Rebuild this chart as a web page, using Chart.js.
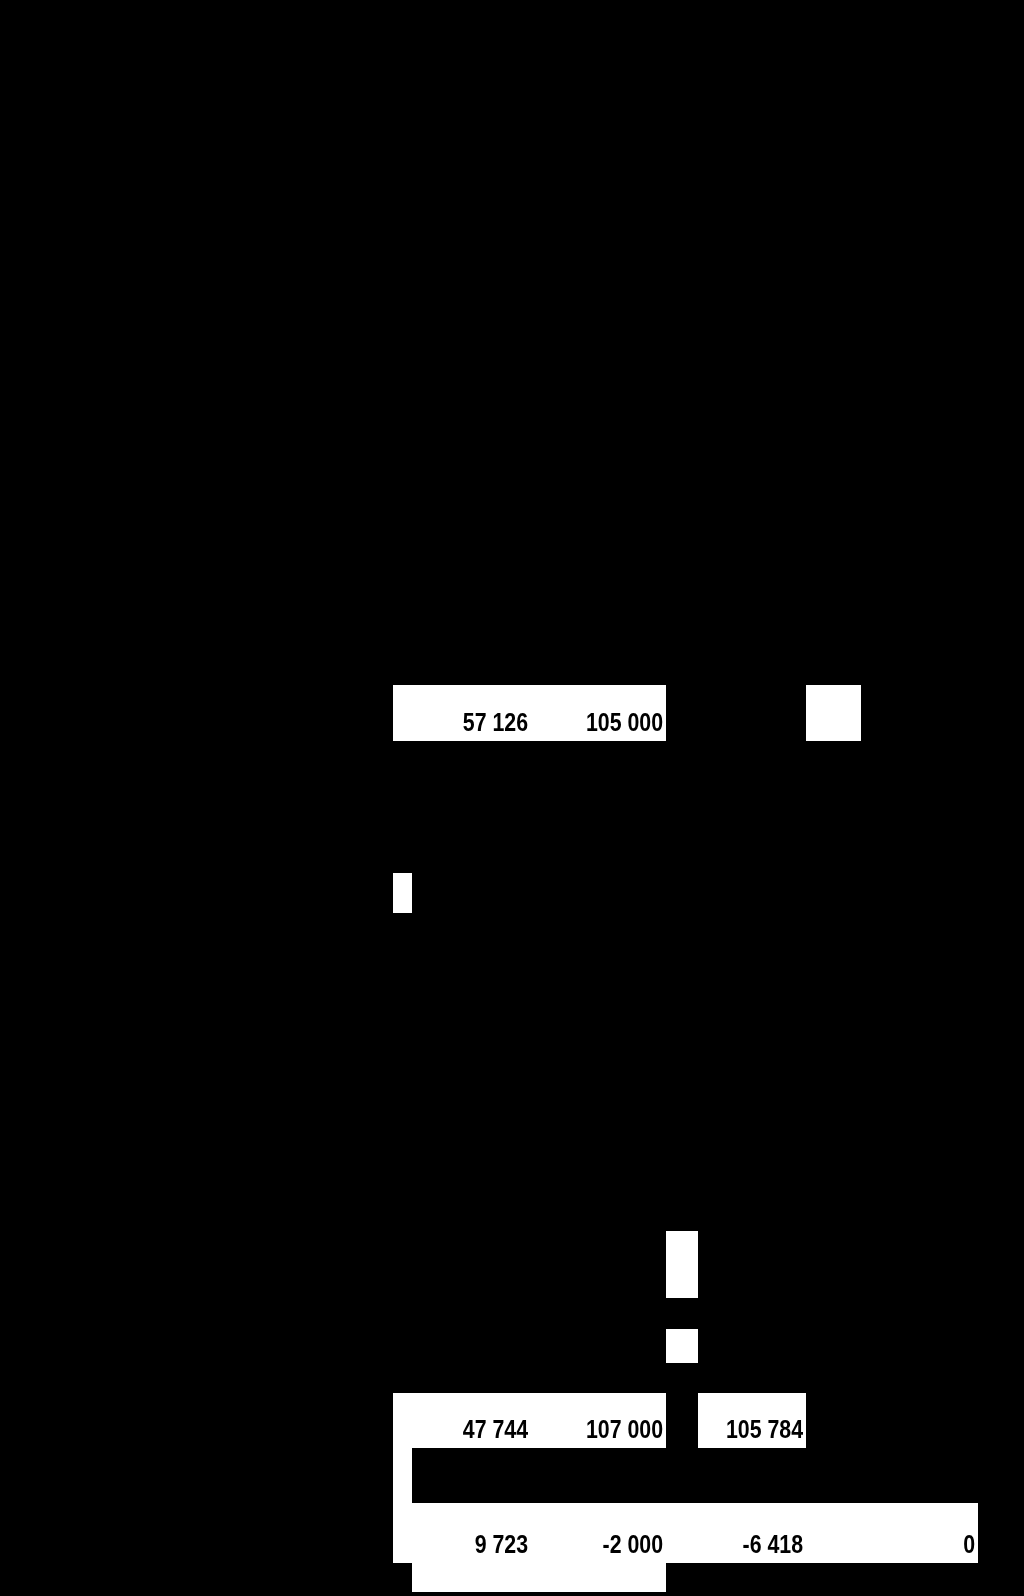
<!DOCTYPE html>
<html>
<head>
<meta charset="utf-8">
<script src="https://cdn.jsdelivr.net/npm/chart.js@4.4.1/dist/chart.umd.min.js"></script>
<style>
  html, body { margin: 0; padding: 0; background: #000; }
  #wrap { position: relative; width: 1024px; height: 1596px; }
</style>
</head>
<body>
<div id="wrap"><canvas id="sheet"></canvas></div>
<script>
// Spreadsheet fragment: only the highlighted (white) cells show up

const columns = ['A', 'B', 'C', 'D', 'E', 'F', 'G'];
const rows = [1, 2, 3, 4, 5, 6, 7, 8];

// highlighted runs: [row index, first column, last column]
const highlighted = [
  [0, 0, 2], [0, 5, 5],
  [1, 0, 0],
  [2, 3, 3],
  [3, 3, 3],
  [4, 0, 2], [4, 4, 4],
  [5, 0, 0],
  [6, 0, 6],
  [7, 1, 2],
];

// cell values per row (null = empty)
const valuesRow1 = [null, 57126, 105000, null, null, null, null];
const valuesRow5 = [null, 47744, 107000, null, 105784, null, null];
const valuesRow7 = [null, 9723, -2000, null, -6418, null, 0];

// sheet geometry, in scale units
const colEdges = [393, 412, 531, 666, 698, 806, 861, 978];
const rowEdges = [
  [685, 741], [873, 913], [1231, 1298], [1329, 1363],
  [1393, 1448], [1448, 1503], [1503, 1563], [1563, 1592],
];

const valueRows = [[0, valuesRow1], [4, valuesRow5], [6, valuesRow7]];

function fmt(v) {
  const s = Math.abs(v).toString().replace(/\B(?=(\d{3})+(?!\d))/g, ' ');
  return (v < 0 ? '-' : '') + s;
}

const datasets = highlighted.map(([r, c0, c1]) => {
  const [top, bottom] = rowEdges[r];
  const left = colEdges[c0];
  const right = colEdges[c1 + 1];
  return {
    label: `${columns[c0]}${rows[r]}:${columns[c1]}${rows[r]}`,
    data: [
      { x: left, y: top },
      { x: right, y: top },
      { x: right, y: bottom },
      { x: left, y: bottom },
    ],
    fill: 'shape',
    backgroundColor: '#ffffff',
    borderColor: 'rgba(0,0,0,0)',
    borderWidth: 0,
    pointRadius: 0,
    tension: 0,
  };
});

// numbers in a condensed bold face (no narrow font installed, so squeeze it)
const cellText = {
  id: 'cellText',
  afterDatasetsDraw(chart) {
    const { ctx, scales } = chart;
    valueRows.forEach(([r, vals]) => {
      const y = scales.y.getPixelForValue(rowEdges[r][1]) - 10.5;
      vals.forEach((v, c) => {
        if (v === null) return;
        const x = scales.x.getPixelForValue(colEdges[c + 1]) - 3;
        ctx.save();
        ctx.translate(x, y);
        ctx.scale(0.82, 1);
        ctx.font = 'bold 26px "Liberation Sans", Arial, sans-serif';
        ctx.fillStyle = '#000';
        ctx.textAlign = 'right';
        ctx.textBaseline = 'alphabetic';
        ctx.fillText(fmt(v), 0, 0);
        ctx.restore();
      });
    });
  },
};

new Chart(document.getElementById('sheet'), {
  type: 'line',
  data: { datasets },
  plugins: [cellText],
  options: {
    animation: false,
    responsive: true,
    maintainAspectRatio: false,
    layout: { padding: 0 },
    plugins: {
      legend: { display: false },
      tooltip: { enabled: false },
    },
    scales: {
      x: { type: 'linear', min: 0, max: 1024, display: false },
      y: { type: 'linear', min: 0, max: 1596, reverse: true, display: false },
    },
  },
});
</script>
</body>
</html>
